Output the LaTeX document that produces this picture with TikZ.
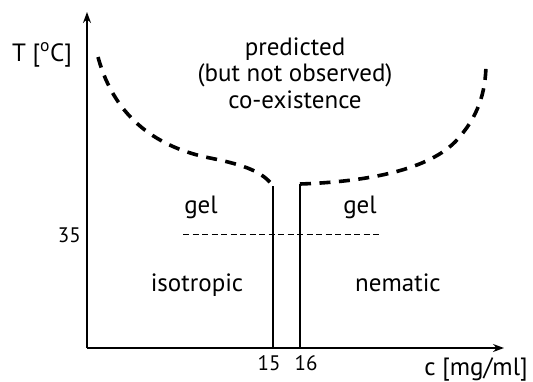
\documentclass[tikz,border=0pt]{standalone}
\usepackage{fontspec}
\setmainfont[Numbers=Lining]{PT Sans}
\usetikzlibrary{arrows.meta}
\newcommand\numfont{\fontsize{21}{23}\selectfont}
\begin{document}
\begin{tikzpicture}[x=1pt,y=-1pt,
  lbl/.style={font=\fontsize{25}{26.5}\selectfont, inner sep=0pt, anchor=base},
  numlbl/.style={inner sep=0pt, anchor=base},
  axis/.style={line width=1.3pt,-{Stealth[length=11pt,width=8pt]}},
  phase/.style={line width=1.3pt},
  coex/.style={line width=3.6pt,dash pattern=on 11pt off 8.5pt},
  thin/.style={line width=0.8pt,dash pattern=on 6pt off 3.5pt}]
\useasboundingbox (0,0) rectangle (533,381);
\coordinate (O) at (87,348);
\coordinate (ytop) at (87,12);
\coordinate (xend) at (504,348);
\draw[axis] (O) -- (ytop);
\draw[axis] (O) -- (xend);
\node[lbl] (T) at (42,61) {T [\textsuperscript{o}C]};
\node[lbl] (c) at (476,375) {c [mg/ml]};
% phase boundaries
\coordinate (a15) at (273,186);
\coordinate (b15) at (273,348);
\coordinate (a16) at (300,184);
\coordinate (b16) at (300,348);
\draw[phase] (a15) -- (b15);
\draw[phase] (a16) -- (b16);
\node[numlbl] (t15) at (269,370) {\numfont 15};
\node[numlbl] (t16) at (306,370) {\numfont 16};
\node[numlbl,anchor=base east] (t35) at (81,242) {\numfont 35};
\coordinate (d1) at (183,234);
\coordinate (d2) at (380,234);
\draw[thin] (d1) -- (d2);
% coexistence curves
\draw[coex] (98,57) .. controls (115,120) and (160,148) .. (210,158)
   .. controls (245,165) and (263,172) .. (a15);
\draw[coex] (a16) .. controls (360,182) and (425,172) .. (455,142)
   .. controls (478,118) and (486,92) .. (486,63);
% labels
\node[lbl] (gel1) at (201,213) {gel};
\node[lbl] (gel2) at (360,213) {gel};
\node[lbl] (iso) at (197,291) {isotropic};
\node[lbl] (nem) at (398,291) {nematic};
\node[lbl] (pred1) at (295,55) {predicted};
\node[lbl] (pred2) at (295,81.5) {(but not observed)};
\node[lbl] (pred3) at (295,108) {co-existence};
\end{tikzpicture}
\end{document}
